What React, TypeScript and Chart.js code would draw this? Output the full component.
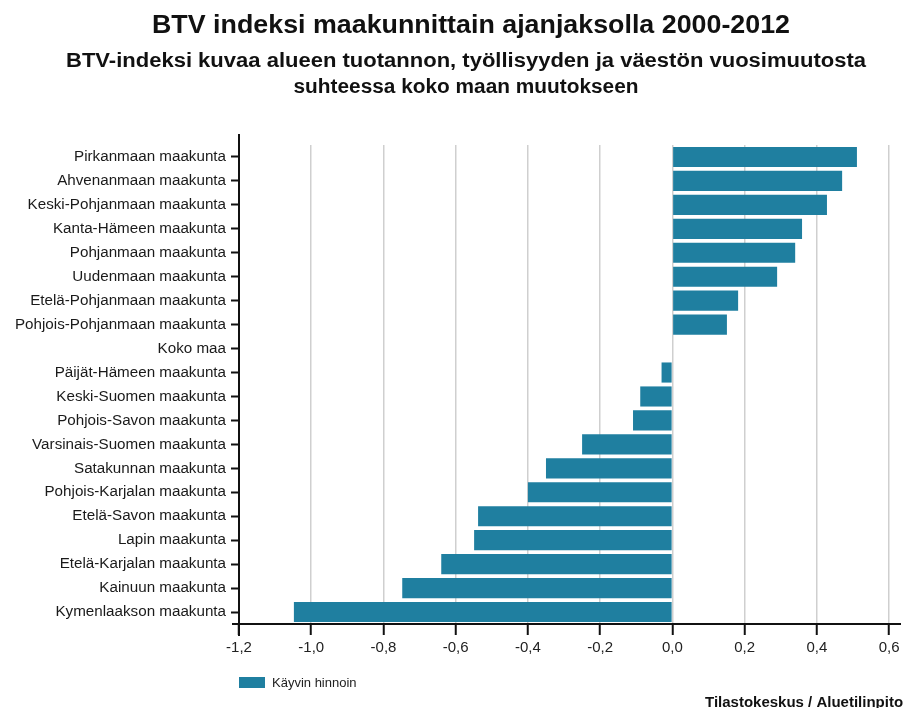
import React, { useEffect, useRef } from "react";
import { Chart, registerables } from "chart.js";

Chart.register(...registerables);

const TITLE = "BTV indeksi maakunnittain ajanjaksolla 2000-2012";
const SUBTITLE = [
  "BTV-indeksi kuvaa alueen tuotannon, työllisyyden ja väestön vuosimuutosta",
  "suhteessa koko maan muutokseen",
];
const SOURCE = "Tilastokeskus / Aluetilinpito";
const SERIES_LABEL = "Käyvin hinnoin";

const REGIONS = [
  "Pirkanmaan maakunta",
  "Ahvenanmaan maakunta",
  "Keski-Pohjanmaan maakunta",
  "Kanta-Hämeen maakunta",
  "Pohjanmaan maakunta",
  "Uudenmaan maakunta",
  "Etelä-Pohjanmaan maakunta",
  "Pohjois-Pohjanmaan maakunta",
  "Koko maa",
  "Päijät-Hämeen maakunta",
  "Keski-Suomen maakunta",
  "Pohjois-Savon maakunta",
  "Varsinais-Suomen maakunta",
  "Satakunnan maakunta",
  "Pohjois-Karjalan maakunta",
  "Etelä-Savon maakunta",
  "Lapin maakunta",
  "Etelä-Karjalan maakunta",
  "Kainuun maakunta",
  "Kymenlaakson maakunta",
];

const BTV_VALUES = [
  0.511, 0.47, 0.428, 0.359, 0.34, 0.29, 0.182, 0.151, 0, -0.03, -0.089,
  -0.109, -0.25, -0.35, -0.4, -0.538, -0.549, -0.64, -0.748, -1.048,
];

const X_TICKS = [-1.2, -1.0, -0.8, -0.6, -0.4, -0.2, 0.0, 0.2, 0.4, 0.6];
const X_MIN = -1.2;
const X_MAX = 0.633;

const BAR_COLOR = "#1f7fa0";
const FONT = "'Liberation Sans', Arial, sans-serif";

function stretchedText(
  ctx: CanvasRenderingContext2D,
  text: string,
  cx: number,
  cy: number,
  targetWidth: number
) {
  const w = ctx.measureText(text).width;
  const sx = targetWidth / w;
  ctx.save();
  ctx.translate(cx, cy);
  ctx.scale(sx, 1);
  ctx.fillText(text, 0, 0);
  ctx.restore();
}

export default function App() {
  const ref = useRef<HTMLCanvasElement | null>(null);

  useEffect(() => {
    document.body.style.margin = "0";
    const canvas = ref.current;
    if (!canvas) return;

    const decor = {
      id: "decor",
      afterDraw(chart: any) {
        const ctx = chart.ctx as CanvasRenderingContext2D;
        const a = chart.chartArea;
        ctx.save();
        // axis lines
        ctx.strokeStyle = "#111";
        ctx.lineWidth = 2;
        ctx.beginPath();
        ctx.moveTo(a.left, a.top - 11);
        ctx.lineTo(a.left, a.bottom + 12);
        ctx.moveTo(a.left - 7, a.bottom);
        ctx.lineTo(a.right, a.bottom);
        ctx.stroke();

        // titles
        ctx.fillStyle = "#111";
        ctx.textAlign = "center";
        ctx.textBaseline = "middle";
        ctx.font = `bold 26px ${FONT}`;
        stretchedText(ctx, TITLE, 471, 26, 638);
        ctx.font = `bold 19.5px ${FONT}`;
        stretchedText(ctx, SUBTITLE[0], 466, 62, 800);
        stretchedText(ctx, SUBTITLE[1], 466, 88, 345);

        // legend
        const lx = a.left;
        const ly = 677;
        ctx.fillStyle = BAR_COLOR;
        ctx.fillRect(lx, ly, 26, 11);
        ctx.fillStyle = "#222";
        ctx.textAlign = "left";
        ctx.font = `13px ${FONT}`;
        ctx.fillText(SERIES_LABEL, lx + 33, ly + 6);

        // source
        ctx.textAlign = "left";
        ctx.textBaseline = "alphabetic";
        ctx.font = `bold 15px ${FONT}`;
        ctx.fillStyle = "#111";
        ctx.fillText(SOURCE, 705, 707);
        ctx.restore();
      },
    };

    const chart = new Chart(canvas, {
      type: "bar",
      data: {
        labels: REGIONS,
        datasets: [
          {
            label: SERIES_LABEL,
            data: BTV_VALUES,
            backgroundColor: BAR_COLOR,
            borderWidth: 0,
            barPercentage: 0.84,
            categoryPercentage: 1,
          },
        ],
      },
      options: {
        indexAxis: "y",
        animation: false,
        responsive: false,
        maintainAspectRatio: false,
        layout: { padding: { top: 145, right: 8, bottom: 47, left: 0 } },
        plugins: {
          legend: { display: false },
          title: { display: false },
          tooltip: { enabled: false },
        },
        scales: {
          x: {
            type: "linear",
            min: X_MIN,
            max: X_MAX,
            afterBuildTicks: (scale: any) => {
              scale.ticks = X_TICKS.map((v) => ({ value: v }));
            },
            border: { display: false },
            grid: {
              color: "#cfcfcf",
              lineWidth: 1.5,
              tickColor: "#111",
              tickWidth: 2,
              tickLength: 11,
            },
            ticks: {
              color: "#222",
              font: { family: FONT, size: 15 },
              padding: 4,
              callback: (v: any) => Number(v).toFixed(1).replace(".", ","),
            },
          },
          y: {
            afterFit: (scale: any) => {
              scale.width = 239;
            },
            border: { display: false },
            grid: {
              offset: false,
              drawOnChartArea: false,
              tickColor: "#111",
              tickWidth: 2,
              tickLength: 8,
            },
            ticks: {
              color: "#1a1a1a",
              font: { family: FONT, size: 15.2 },
              padding: 5,
              autoSkip: false,
            },
          },
        },
      },
      plugins: [decor],
    });

    return () => chart.destroy();
  }, []);

  return (
    <div style={{ width: 909, height: 708 }}>
      <canvas ref={ref} width={909} height={708} style={{ display: "block" }} />
    </div>
  );
}
